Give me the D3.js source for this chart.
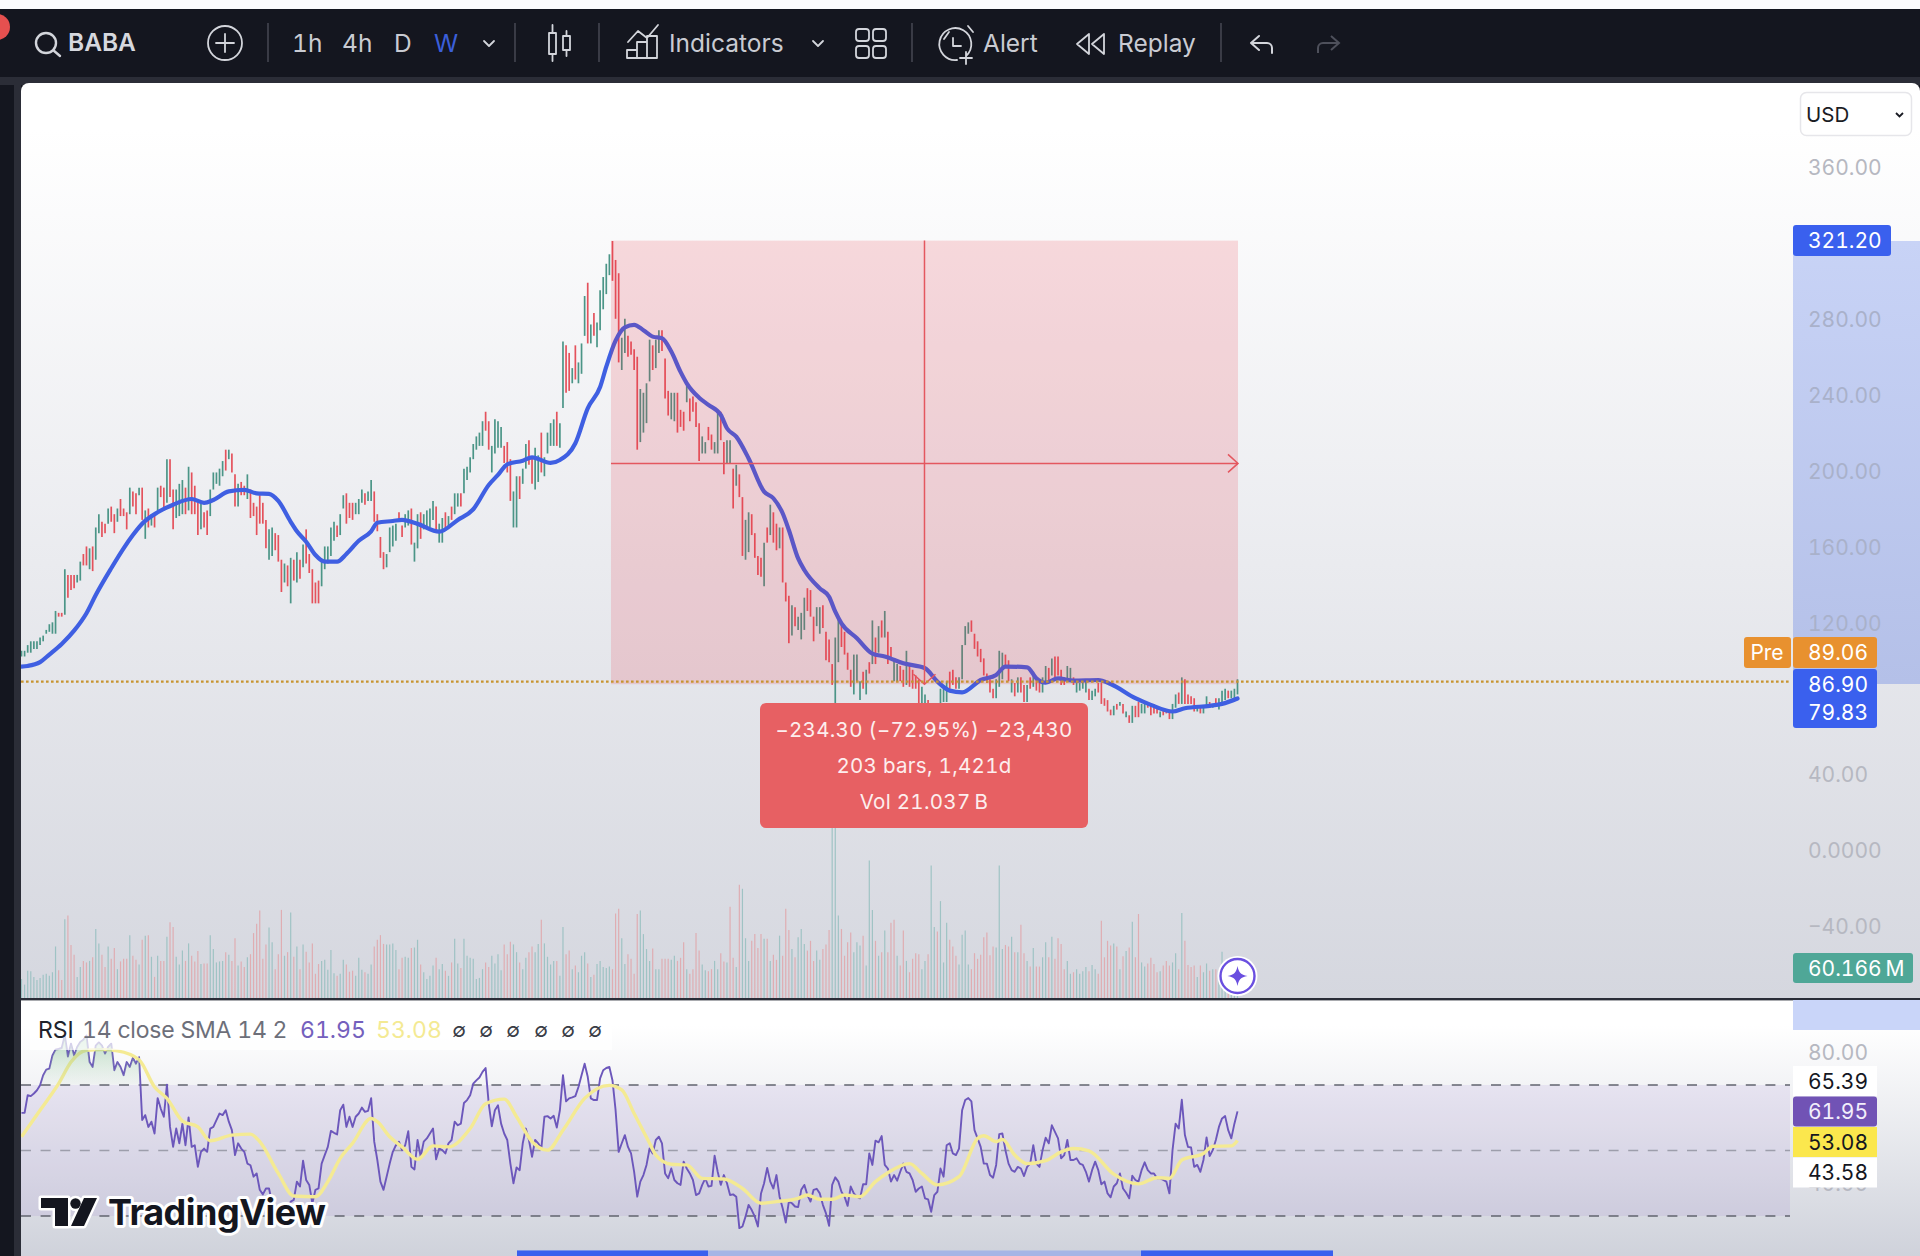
<!DOCTYPE html>
<html>
<head>
<meta charset="utf-8">
<title>BABA</title>
<script src="https://cdn.jsdelivr.net/npm/d3@7"></script>
<style>
  html, body { margin: 0; padding: 0; background: #fff; }
  svg { display: block; }
  text { font-family: Inter, "Noto Sans", sans-serif; font-variant-numeric: tabular-nums; }
</style>
</head>
<body>
<svg id="drawing_region"></svg>
<script>
// weekly bars
const barHigh = [
  105,105,108,110,110,110,112,113,116,119, 120,126,125,125,148,145,145,145,145,152,
  156,160,159,160,170,177,173,172,180,181, 177,180,185,180,178,191,189,188,191,191,
  179,180,177,177,191,192,191,206,206,190, 190,193,195,191,202,199,192,183,183,178,
  179,190,199,199,201,205,211,211,209,198, 193,194,192,198,190,183,181,187,183,174,
  169,170,167,166,153,151,150,154,153,157, 153,161,169,156,148,141,142,153,160,160,
  170,173,171,177,187,188,183,183,183,185, 190,188,189,195,189,177,165,157,156,170,
  171,172,178,171,177,179,180,162,177,178, 177,179,180,184,181,172,175,178,176,181,
  188,188,188,201,202,207,214,218,220,226, 231,226,213,227,226,223,213,215,206,189,
  197,197,201,214,216,207,212,208,220,207, 220,225,227,231,225,268,266,262,254,266,
  257,267,292,299,277,283,278,295,302,309, 314,321,311,304,270,280,271,268,264,260,
  243,241,246,269,266,269,274,274,259,242, 241,241,241,232,231,245,238,239,236,225,
  218,215,223,219,215,230,231,215,216,216, 201,203,198,186,174,178,177,167,155,154,
  162,170,182,178,172,170,170,141,134,129, 128,123,125,133,138,137,123,128,128,129,
  115,111,98,112,122,119,115,104,95,103, 103,89,94,95,99,121,112,118,121,126,
  115,107,100,98,97,95,105,97,95,92, 90,86,82,79,76,75,76,85,85,89,
  94,95,91,91,108,118,120,121,114,110, 106,101,93,90,85,90,105,104,103,100,
  90,88,91,91,87,87,91,94,91,90, 91,97,96,101,102,102,95,91,97,96,
  91,89,88,89,89,85,84,85,88,88, 80,79,74,76,77,78,77,73,71,76,
  76,78,77,77,77,76,77,75,73,74, 74,74,77,82,83,91,90,82,81,80,
  76,75,76,81,78,77,80,80,84,85, 84,84,85,90
];
const barLow = [
  102,102,104,104,106,106,108,110,114,115, 114,114,123,123,124,133,137,138,141,142,
  150,150,148,147,153,167,165,167,172,173, 167,173,176,176,169,177,181,177,187,174,
  164,170,171,170,179,186,179,183,186,169, 175,176,177,177,179,177,177,166,169,170,
  166,176,190,193,192,197,200,206,199,181, 181,187,187,185,175,176,166,172,172,159,
  153,155,158,152,136,141,139,130,142,141, 143,149,151,146,130,130,130,139,148,151,
  155,163,165,166,180,172,175,174,177,177, 183,182,184,184,173,168,154,148,149,157,
  160,163,173,165,170,171,161,152,159,164, 169,170,170,174,168,162,162,169,170,174,
  177,181,181,188,195,199,206,211,213,213, 221,211,199,209,212,212,204,199,184,170,
  170,185,193,201,203,193,190,194,199,197, 209,213,213,213,212,233,241,242,246,248,
  246,251,271,267,267,271,265,274,285,293, 303,300,280,257,253,262,260,261,253,211,
  215,220,225,247,253,254,262,263,238,229, 227,226,220,223,221,236,226,231,223,205,
  209,209,216,211,209,209,216,198,204,204, 180,192,186,155,153,157,166,154,145,144,
  139,162,166,162,158,159,141,131,109,113, 118,116,111,116,126,123,110,118,114,117,
  100,99,87,70,99,107,103,95,86,82, 89,79,85,82,93,98,98,104,112,112,
  98,101,89,89,89,86,87,86,85,85, 77,77,77,76,72,70,72,76,78,78,
  85,87,85,85,90,108,114,115,106,102, 99,92,88,83,80,80,86,90,96,89,
  83,81,83,83,78,78,85,86,84,83, 83,89,88,92,91,92,87,87,90,89,
  87,83,84,85,83,79,79,81,83,77, 76,73,71,71,74,76,72,70,67,67,
  70,70,72,72,75,71,72,72,70,71, 72,69,69,75,77,77,77,77,77,73,
  73,72,72,75,75,75,76,74,78,79, 80,80,80,82
];
// 1 = up week, 0 = down week
const barUp = [
  1,1,1,1,1,1,1,1,1,1, 1,1,0,0,1,0,0,0,1,1, 0,0,1,0,1,1,0,0,1,0, 0,1,0,0,0,1,0,0,1,0,
  1,0,1,0,1,0,0,1,0,0, 1,1,1,0,1,0,0,0,1,0, 0,1,1,1,1,1,0,1,0,0, 1,0,0,1,0,0,0,0,0,0,
  1,1,0,0,0,1,0,1,0,1, 0,1,0,0,0,0,0,1,1,1, 1,1,0,1,1,0,0,0,1,1, 1,0,1,1,0,0,0,0,1,1,
  1,1,0,0,1,1,0,1,1,0, 1,1,1,1,0,1,1,0,1,0, 1,1,0,1,1,1,1,1,1,1, 0,0,1,1,1,1,0,0,0,1,
  1,0,1,1,0,0,1,1,0,1, 1,1,1,0,1,1,0,0,1,0, 1,1,1,0,1,0,1,1,1,1, 1,0,0,0,1,1,0,0,0,0,
  1,1,1,1,0,1,1,0,0,0, 1,1,0,0,0,1,0,0,0,0, 1,1,0,0,1,1,0,0,1,1, 0,1,0,0,1,1,0,0,0,0,
  1,0,1,0,0,1,0,0,0,1, 0,1,1,1,0,0,0,1,1,0, 0,0,0,1,1,0,0,0,0,1, 1,1,0,1,0,1,0,1,0,1,
  0,0,1,1,0,0,1,0,0,0, 0,1,1,0,0,1,0,1,1,1, 0,0,0,1,1,1,1,0,0,0, 0,0,0,0,0,1,1,1,0,0,
  1,0,1,0,0,1,0,1,0,0, 1,1,0,1,0,0,0,0,1,1, 0,1,1,1,1,0,1,1,0,0, 0,0,0,1,0,1,0,1,0,1,
  0,0,1,1,0,0,0,0,1,0, 0,0,1,1,0,1,0,0,0,0, 1,0,1,1,0,1,0,1,1,1, 0,1,1,1
];
// volume in millions
const volume = [
  37,26,53,52,41,35,39,45,47,43, 50,100,54,35,153,160,103,84,41,60,
  72,69,72,79,134,106,84,60,100,76, 97,56,71,76,76,122,82,74,65,113,
  121,122,80,41,82,72,72,119,147,138, 80,65,92,72,106,82,71,91,66,67,
  67,122,95,69,71,72,89,84,72,116, 63,71,60,79,85,126,144,170,76,104,
  137,108,56,85,171,82,89,166,80,100, 56,104,90,69,106,47,66,72,74,55,
  93,48,43,47,74,65,51,53,43,78, 55,50,47,65,100,113,122,105,104,104,
  106,93,56,78,80,78,97,98,113,65, 50,37,43,63,78,56,66,53,43,69,
  115,67,58,115,82,78,76,37,39,56, 69,60,82,67,85,54,104,85,109,104,
  89,69,56,78,89,100,89,105,152,106, 80,65,72,72,43,138,85,92,56,63,
  50,82,89,67,41,45,66,72,60,58, 61,56,164,173,116,66,85,76,47,163,
  170,124,95,72,96,56,56,76,76,76, 74,82,72,78,108,56,47,56,126,92,
  65,54,52,56,72,56,87,71,69,177, 78,60,220,212,116,72,111,124,97,124,
  115,115,72,84,74,121,82,173,132,95, 79,118,134,105,92,111,72,92,74,95,
  104,132,330,345,160,134,82,108,127,89, 108,102,121,63,267,171,111,82,89,131,
  89,146,152,82,63,131,72,50,76,87, 85,56,72,85,257,138,129,188,69,146,
  113,100,82,65,123,131,65,56,87,76, 84,118,127,83,100,98,257,95,103,100,
  119,89,89,142,87,72,61,97,61,61, 79,108,79,119,76,116,105,56,72,47,
  50,56,47,52,60,52,64,56,47,150, 79,111,102,106,100,56,81,91,98,148,
  79,163,69,61,67,78,66,50,52,63, 72,63,69,87,56,165,111,64,60,63,
  41,63,50,67,53,56,56,47,90,50, 50,45,55,60.166
];
// weeks whose volume bar has the other colour than the price bar
const volFlip = [229,233,262,274,282,294];

// moving average, read at these bars
const maBar = [0,2,6,9,13,17,21,24,29,33,36,39,44,49,55,59,62,67,72,76,80,83,87,89,92,95,98,102,105,109,113,115,120,123,128,135,141,146,151,154,157,162,165,171,174,179,183,187,189,192,195,198,201,204,207,210,213,215,219,222,226,228,231,235,240,243,246,248,251,253,258,261,263,265,270,275,279,285,292,296,300,304,310,315,318,325,328,331,335,340,348,352,360,365,372,376,384,388,393];
const maVal = [96.7,97,99,103,108.6,115.6,124.8,134.4,148.5,159,166,172,178,182,185,183,184.5,189,189.8,188,187.7,184,173,168,162.5,155.5,152,152,156,163,168,172.5,173.4,174,171.9,167.8,174,179.6,192.4,197.7,203.3,205.2,207,204,205.6,214.4,232.8,244,254.8,268.5,275.5,276.8,274,270.6,269.7,262.7,252,246,238.4,234.6,229.3,222.3,217.9,206.4,188.9,185.4,177.5,168.7,153.7,147.6,137.9,133.5,125.6,119.5,111.6,103.5,102,98.4,95.8,88.8,84,83.1,89.6,92.3,96.7,96.3,90.5,88.2,90.5,89.3,89.6,87.5,80,76.5,73,74.7,76,77,79.83];

// RSI 14
const rsi = [
  61.5,61.5,66.9,66.6,67.4,68.4,69.9,73,74.7,75, 79,80.8,81,81.3,85.1,78.7,82.6,79,81.6,83.1,
  83.8,85.1,77,75.5,82,83,82,79.6,81.6,82.6, 74.5,77,75.5,73,77,75.5,78.3,76.5,78.5,59.3,
  60.8,57.2,58.8,55.2,66,62.8,60.3,70.1,57.2,51.1, 56.7,52.2,58.2,51.6,60.1,51.1,51.6,45,49.6,50.6,
  49.6,56.7,57.2,59.3,61.3,60.8,62.3,58.8,56.2,48.6, 52.2,50.6,49.6,46,45.5,42,43,38,36.6,38.4,
  38.4,33.9,31.8,30.5,29.8,30.8,31.8,34.4,34.9,40.5, 39,46.9,41,39.5,33.9,38,38.4,46,48.6,51.1,
  56,55.4,54.9,62.3,64,57.2,60.3,57.2,60.3,61.3, 63.1,61.8,62.1,66,52.7,47.1,40.5,38,42,46,
  49.6,51.6,52.7,50.1,51.6,55.9,45,44.2,53.2,48.1, 52.7,53.7,55.2,56.7,47.3,50.6,50.1,49.1,52.2,53.2,
  58.8,57.7,58.2,64.5,65.4,66.9,70.4,71.4,72.3,74, 75.2,64.3,57.4,62.3,63.8,58.2,55.2,53.2,46,40,
  44.8,44,52.2,56.7,53.2,48.1,53.2,52.2,50.6,60.3, 60.5,59.8,60.6,57,62.3,73,65,65.9,66.2,66.6,
  69.4,73,76.5,72.5,65.9,65.4,65.4,72,74.5,75.2, 75.5,71.4,62.3,49.6,52.2,54.7,51.1,49.1,43.5,35.9,
  40.5,42.5,45.6,50.6,49.1,53.2,54.2,52.2,43,41.5, 44.5,41,40,39.5,46.6,44.5,43,41,36.4,36.9,
  39.5,41.5,39,39.2,48.4,43.5,39.5,42.5,40,36.4, 36.6,35.9,26.3,26.8,29.8,33.4,31.8,29.8,26.8,36.9,
  40,44.7,40.5,38.4,42.5,35.9,32.4,28,34.4,33.9, 32.9,32.7,38,39.5,36.4,34.4,38,38.3,36.9,33.4,
  30.8,27,39.5,41.8,40.5,37.4,35.9,33.1,39,36.9, 35.9,35.4,39.7,39.7,49.1,45.6,53,52.5,54.4,45.6,
  44.5,40.5,42.5,40.8,43.5,46,43.5,43,41,37.4, 38.4,39,35.4,35.1,31.3,36.4,37.4,44.5,42,51.6,
  52.2,49.1,48.6,50.6,62.3,65.4,66,65,56.2,53.7, 51.1,46,46,42.5,41.7,45.6,55,55.2,50.1,46,
  44,43.5,45,44.5,42.2,45,46,51.6,46,45, 50.1,53.9,52.2,57.7,55.7,53.7,47.6,48.6,53.2,47.1,
  47.1,47.6,46,45.6,43.5,40.5,44,46.6,44,39.7, 40.5,36.9,35.7,39,40,43,38.4,37.1,35.4,42.3,
  41,40.5,44,46.4,44,43,43,41.5,41.5,41, 40.5,36.9,50.1,58.2,56.7,65.5,54.7,51.1,50.9,45,
  45.6,43.5,47.1,54,48.3,50.1,53.2,57.2,59.8,60.5, 56.2,53.7,58.2,61.95
];
// SMA of the RSI, read at these bars
const smaBar = [0,6,12,16,21,26,31,38,43,47,52,57,61,68,74,77,83,88,95,99,103,107,113,115,119,123,128,133,138,145,150,156,160,165,170,175,182,190,194,198,203,205,210,215,220,227,233,239,244,251,254,258,262,266,271,276,280,287,291,296,303,309,311,315,317,321,325,331,336,340,345,353,361,367,371,375,382,385,391,393];
const smaVal = [54.2,62.3,70.4,77,80.6,80.8,80.4,77.7,69.4,65.9,59,57.2,53,54.7,55,52.7,43,36.1,35.9,40.5,47.6,52.2,59.8,58.8,54.2,51.1,47.3,51.4,51.1,56.7,64.3,65.7,60.3,52.7,50.1,56.2,65.9,69.9,68.5,61.3,52.2,48.6,45.8,45.6,41.5,41.3,38.4,33.9,34.4,35.4,36.4,35.1,35.1,36.4,35.9,40.5,43.2,46,43,39.5,42,53.7,54.5,52.7,53.4,48.6,46,46.9,49.6,50.6,49.9,42.8,39.8,41.7,41.5,47.1,49.1,51.3,51.4,53.08];

// axis labels
const priceTicks = [360,280,240,200,160,120,40,0,-40];
const rsiTicks = [80,40];
const rsiLevels = [70,50,30];
const toolbarWords = [
  {t:'1h',x:292},{t:'4h',x:342},{t:'D',x:394},{t:'W',x:434,c:'#3b5fd9'},
  {t:'Indicators',x:669},{t:'Alert',x:983},{t:'Replay',x:1118}
];
const toolbarSeps = [268,515,599,912,1221];
const measureLines = ['\u2212234.30 (\u221272.95%) \u221223,430','203 bars, 1,421d','Vol 21.037\u2009B'];

const width = 1920, height = 1256;
const green = '#4b9587', red = '#e4525c';

const svg = d3.select('#drawing_region').attr('width', width).attr('height', height);
const defs = svg.append('defs');

function vGrad(id, stops, y1, y2) {
  const g = defs.append('linearGradient').attr('id', id)
    .attr('gradientUnits', 'userSpaceOnUse')
    .attr('x1', 0).attr('x2', 0).attr('y1', y1).attr('y2', y2);
  stops.forEach(s => g.append('stop').attr('offset', s[0]).attr('stop-color', s[1]).attr('stop-opacity', s[2] === undefined ? 1 : s[2]));
}
vGrad('bgMain', [[0,'#ffffff'],[0.05,'#ffffff'],[1,'#d5d7df']], 83, 998);
vGrad('bgRsi', [[0,'#ffffff'],[0.1,'#ffffff'],[1,'#cfd2db']], 1000, 1256);
vGrad('obFill', [[0,'#7fbf8f',0.5],[1,'#a5d0a8',0.05]], 1040, 1085);
vGrad('tokenBand', [[0,'#c8d3f6'],[1,'#b4c0e8']], 241, 684);

clip('mainClip', 21, 83, 1769, 915);
clip('rsiClip', 21, 1000, 1769, 256);
clip('obClip', 21, 1000, 1769, 84.5);
function clip(id, x, y, w, h) {
  defs.append('clipPath').attr('id', id).append('rect').attr('x', x).attr('y', y).attr('width', w).attr('height', h);
}

// scales
const x = d3.scaleLinear().domain([0, barHigh.length - 1]).range([21.5, 1237.5]);
const y = d3.scaleLinear().domain([0, 360]).range([850, 167]);
const yVol = d3.scaleLinear().domain([0, 60.166]).range([998, 967]);
const yRsi = d3.scaleLinear().domain([30, 70]).range([1216, 1085]);

// page frame
svg.append('rect').attr('width', width).attr('height', height).attr('fill', '#14161f');
svg.append('rect').attr('width', width).attr('height', 9).attr('fill', '#fbfbfd');
svg.append('rect').attr('y', 77).attr('width', width).attr('height', 8).attr('fill', '#2b2d37');
svg.append('rect').attr('x', 14).attr('y', 84).attr('width', 7).attr('height', height).attr('fill', '#2b2d37');
svg.append('path').attr('fill', 'url(#bgMain)')
  .attr('d', 'M21 998V91a8 8 0 0 1 8-8H1912a8 8 0 0 1 8 8V998Z');
svg.append('rect').attr('x', 21).attr('y', 1000).attr('width', 1899).attr('height', 256).attr('fill', 'url(#bgRsi)');
svg.append('rect').attr('x', 21).attr('y', 998).attr('width', 1899).attr('height', 2.4).attr('fill', '#2a2d38');

// ---- main pane
const mainG = svg.append('g').attr('clip-path', 'url(#mainClip)');

mainG.selectAll('.vol').data(volume).enter().append('line')
  .attr('x1', (d, i) => x(i)).attr('x2', (d, i) => x(i))
  .attr('y1', yVol(0)).attr('y2', d => yVol(d))
  .attr('stroke', (d, i) => {
    const up = volFlip.includes(i) ? !barUp[i] : barUp[i];
    return up ? '#9fc3c4' : '#dfadb2';
  })
  .attr('stroke-width', 1.2);

mainG.selectAll('.bar').data(barHigh).enter().append('line')
  .attr('x1', (d, i) => x(i)).attr('x2', (d, i) => x(i))
  .attr('y1', d => y(d)).attr('y2', (d, i) => y(barLow[i]))
  .attr('stroke', (d, i) => barUp[i] ? green : red)
  .attr('stroke-width', 1.7);

const maLine = d3.line().x(d => x(d[0])).y(d => y(d[1])).curve(d3.curveMonotoneX);
mainG.append('path').datum(maBar.map((b, i) => [b, maVal[i]]))
  .attr('d', maLine).attr('fill', 'none').attr('stroke', '#3f5fe2')
  .attr('stroke-width', 4.2).attr('stroke-linejoin', 'round').attr('stroke-linecap', 'round');

// measure tool
const rLeft = x(191) - 1.5, rRight = x(393) + 0.5, rTop = y(321.2), rBottom = y(87.4);
const rMidX = (rLeft + rRight) / 2, rMidY = (rTop + rBottom) / 2 + 1;
mainG.append('rect').attr('x', rLeft).attr('y', rTop).attr('width', rRight - rLeft).attr('height', rBottom - rTop)
  .attr('fill', '#e8303f').attr('fill-opacity', 0.17);
mainG.append('line').attr('x1', rLeft).attr('x2', rRight).attr('y1', rMidY).attr('y2', rMidY).attr('stroke', '#e4575f').attr('stroke-width', 1.5);
mainG.append('line').attr('x1', rMidX).attr('x2', rMidX).attr('y1', rTop).attr('y2', rBottom).attr('stroke', '#e4575f').attr('stroke-width', 1.5);
mainG.append('path').attr('fill', 'none').attr('stroke', '#e4575f').attr('stroke-width', 1.5)
  .attr('d', `M${rRight - 10} ${rMidY - 9}L${rRight} ${rMidY}L${rRight - 10} ${rMidY + 9}`);
mainG.append('path').attr('fill', 'none').attr('stroke', '#e4575f').attr('stroke-width', 1.5)
  .attr('d', `M${rMidX - 11} ${rBottom - 10}L${rMidX} ${rBottom}L${rMidX + 11} ${rBottom - 10}`);

// pre-market price line
mainG.append('line').attr('x1', 21).attr('x2', 1790).attr('y1', y(88.7)).attr('y2', y(88.7))
  .attr('stroke', '#c7942f').attr('stroke-width', 2.2).attr('stroke-dasharray', '2.6,2.4');

// measure tooltip
svg.append('rect').attr('x', 760).attr('y', 703).attr('width', 328).attr('height', 125).attr('rx', 6).attr('fill', '#e76063');
svg.selectAll('.measure').data(measureLines).enter().append('text')
  .attr('x', 924).attr('y', (d, i) => 730 + i * 36).attr('dy', '0.36em')
  .attr('text-anchor', 'middle').attr('fill', '#fdeeee').attr('font-size', 20.5).attr('letter-spacing', '0.3px')
  .text(d => d);

// price axis
svg.append('rect').attr('x', 1793).attr('y', 241).attr('width', 127).attr('height', 443).attr('fill', 'url(#tokenBand)');
const priceAxis = d3.axisRight(y).tickValues(priceTicks).tickSize(0).tickPadding(15)
  .tickFormat(d => d === 0 ? '0.0000' : d3.format('.2f')(d).replace('-', '\u2212'));
const priceG = svg.append('g').attr('transform', 'translate(1793,1)').call(priceAxis);
priceG.select('.domain').remove();
priceG.selectAll('text').attr('font-size', 21).attr('font-family', 'Inter').attr('fill', d => (d <= 280 && d >= 120) ? '#a9b1ca' : '#b6b8c1');

function priceTag(text, tx, ty, w, h, fill, color, rx) {
  svg.append('rect').attr('x', tx).attr('y', ty).attr('width', w).attr('height', h).attr('rx', rx === undefined ? 3 : rx).attr('fill', fill);
  svg.append('text').attr('x', tx + 15).attr('y', ty + h / 2).attr('dy', '0.36em').attr('font-size', 21).attr('fill', color).text(text);
}
priceTag('321.20', 1793, 225, 98, 31, '#3a60ee', '#fff');
priceTag('89.06', 1793, 637, 84, 31, '#e8912f', '#fff');
svg.append('rect').attr('x', 1744).attr('y', 637).attr('width', 47).attr('height', 31).attr('rx', 3).attr('fill', '#e8912f');
svg.append('text').attr('x', 1767).attr('y', 652.5).attr('dy', '0.36em').attr('text-anchor', 'middle').attr('font-size', 21).attr('fill', '#fff').text('Pre');
svg.append('rect').attr('x', 1793).attr('y', 669).attr('width', 84).attr('height', 59).attr('rx', 3).attr('fill', '#3a60ee');
svg.selectAll('.lastPrice').data(['86.90', '79.83']).enter().append('text')
  .attr('x', 1808).attr('y', (d, i) => 684.5 + i * 27.5).attr('dy', '0.36em').attr('font-size', 21).attr('fill', '#fff').text(d => d);
priceTag('60.166\u2009M', 1793, 953, 120, 30, '#4fa797', '#fff');

// assistant icon
svg.append('circle').attr('cx', 1237.5).attr('cy', 976).attr('r', 20).attr('fill', '#fff');
svg.append('circle').attr('cx', 1237.5).attr('cy', 976).attr('r', 17).attr('fill', '#fff').attr('stroke', '#6a4fe0').attr('stroke-width', 2.4);
svg.append('path').attr('transform', 'translate(1237.5,976)').attr('fill', '#6a4fe0')
  .attr('d', 'M0-10C1.5-3 3-1.5 10 0C3 1.5 1.5 3 0 10C-1.5 3 -3 1.5 -10 0C-3-1.5 -1.5-3 0-10Z');

// ---- RSI pane
svg.append('rect').attr('x', 21).attr('y', yRsi(70)).attr('width', 1769).attr('height', yRsi(30) - yRsi(70))
  .attr('fill', '#7e57c2').attr('fill-opacity', 0.1);

const rsiG = svg.append('g').attr('clip-path', 'url(#rsiClip)');
rsiG.selectAll('.level').data(rsiLevels).enter().append('line')
  .attr('x1', 21).attr('x2', 1790).attr('y1', d => yRsi(d)).attr('y2', d => yRsi(d))
  .attr('stroke', d => d === 50 ? '#9d9eab' : '#62646f').attr('stroke-width', 1.6).attr('stroke-dasharray', '10,9.6');

const obArea = d3.area().x((d, i) => x(i)).y0(yRsi(70)).y1(d => yRsi(d));
svg.append('g').attr('clip-path', 'url(#obClip)').append('path').datum(rsi.slice(0, 47))
  .attr('d', obArea).attr('fill', 'url(#obFill)');

rsiG.append('path').datum(rsi)
  .attr('d', d3.line().x((d, i) => x(i)).y(d => yRsi(d)))
  .attr('fill', 'none').attr('stroke', '#6c57bb').attr('stroke-width', 1.9).attr('stroke-linejoin', 'round');
rsiG.append('path').datum(smaBar.map((b, i) => [b, smaVal[i]]))
  .attr('d', d3.line().x(d => x(d[0])).y(d => yRsi(d[1])).curve(d3.curveMonotoneX))
  .attr('fill', 'none').attr('stroke', '#f4ea93').attr('stroke-width', 3.4).attr('stroke-linejoin', 'round');

// RSI legend
svg.append('rect').attr('x', 30).attr('y', 1012).attr('width', 582).attr('height', 38).attr('fill', '#fff').attr('fill-opacity', 0.7);
const legend = svg.append('text').attr('y', 1030).attr('dy', '0.36em').attr('font-size', 23);
legend.append('tspan').attr('x', 38).attr('fill', '#20222b').text('RSI');
legend.append('tspan').attr('x', 82).attr('fill', '#6d6f7a').attr('letter-spacing', '-0.2px').text('14 close SMA 14 2');
legend.append('tspan').attr('x', 300).attr('fill', '#7460bd').text('61.95');
legend.append('tspan').attr('x', 376).attr('fill', '#f4ea93').text('53.08');
[459, 486, 513, 541, 568, 595].forEach(px => {
  svg.append('text').attr('x', px).attr('y', 1030).attr('dy', '0.36em').attr('text-anchor', 'middle')
    .attr('font-size', 20).attr('fill', '#3a3c46').text('\u2205');
});

// RSI axis
const rsiAxis = d3.axisRight(yRsi).tickValues(rsiTicks).tickSize(0).tickPadding(15).tickFormat(d3.format('.2f'));
const rsiAxisG = svg.append('g').attr('transform', 'translate(1793,1)').call(rsiAxis);
rsiAxisG.select('.domain').remove();
rsiAxisG.selectAll('text').attr('font-size', 21).attr('font-family', 'Inter').attr('fill', '#b6b8c1');
svg.append('rect').attr('x', 1793).attr('y', 1000).attr('width', 127).attr('height', 30).attr('fill', '#c9d5f9');
priceTag('65.39', 1793, 1066, 84, 30, '#ffffff', '#15171f', 0);
priceTag('61.95', 1793, 1096.5, 84, 30, '#7153b5', '#f2eefb');
priceTag('53.08', 1793, 1127, 84, 30, '#fbe74d', '#15171f', 0);
priceTag('43.58', 1793, 1157.5, 84, 30, '#ffffff', '#15171f', 0);

// TradingView logo
const logoG = svg.append('g');
const logoPath = 'M41 1198H68V1226H55V1208H41ZM84 1198H97L84 1226H71Z';
logoG.append('path').attr('d', logoPath).attr('fill', '#fff').attr('stroke', '#fff').attr('stroke-width', 5).attr('stroke-linejoin', 'round');
logoG.append('circle').attr('cx', 75.5).attr('cy', 1203.5).attr('r', 5.2).attr('fill', '#fff').attr('stroke', '#fff').attr('stroke-width', 5);
logoG.append('path').attr('d', logoPath).attr('fill', '#14161f');
logoG.append('circle').attr('cx', 75.5).attr('cy', 1203.5).attr('r', 5.2).attr('fill', '#14161f');
logoG.append('text').attr('x', 108).attr('y', 1225).attr('font-size', 36).attr('font-weight', 700).attr('letter-spacing', '-0.5px')
  .attr('fill', '#14161f').attr('stroke', '#fff').attr('stroke-width', 6).attr('paint-order', 'stroke').attr('stroke-linejoin', 'round').text('TradingView');

// time range strip
svg.append('rect').attr('x', 517).attr('y', 1250.5).attr('width', 816).attr('height', 6).attr('fill', '#a6b5e6');
svg.append('rect').attr('x', 517).attr('y', 1250.5).attr('width', 191).attr('height', 6).attr('fill', '#3a60ee');
svg.append('rect').attr('x', 1141).attr('y', 1250.5).attr('width', 192).attr('height', 6).attr('fill', '#3a60ee');

// ---- toolbar
svg.append('circle').attr('cx', -3).attr('cy', 27).attr('r', 13).attr('fill', '#e5504f');
toolbarSeps.forEach(sx => {
  svg.append('line').attr('x1', sx).attr('x2', sx).attr('y1', 23).attr('y2', 62).attr('stroke', '#4a4c57').attr('stroke-width', 1.4);
});
svg.append('text').attr('x', 68).attr('y', 42.5).attr('dy', '0.36em').attr('font-size', 24.5).attr('font-weight', 600).attr('fill', '#d6d8de').text('BABA');
svg.selectAll('.tool').data(toolbarWords).enter().append('text')
  .attr('x', d => d.x).attr('y', 43).attr('dy', '0.36em').attr('font-size', 24.5)
  .attr('fill', d => d.c || '#c9cbd2').text(d => d.t);

const icon = (d, w) => svg.append('path').attr('d', d).attr('fill', 'none').attr('stroke', '#d3d5db').attr('stroke-width', w || 1.8).attr('stroke-linecap', 'round').attr('stroke-linejoin', 'round');
icon('M36 43a10 10 0 1 0 20 0a10 10 0 1 0 -20 0M53 50L60 56', 2.4);
icon('M208 43a17 17 0 1 0 34 0a17 17 0 1 0 -34 0M225 34V52M216 43H234', 1.8);
icon('M484 41l5 5l5-5', 1.8);
icon('M813 41l5 5l5-5', 1.8);
icon('M549 33h7v21h-7zM552.5 25V33M552.5 54V61M563 36h7v14h-7zM566.5 31V36M566.5 50V56');
icon('M627 58h10v-8h-10zM637 58h10v-16h-10zM647 58h10v-22h-10zM628 42l10-11l9 7l11-13');
icon('M859 29h7a3 3 0 0 1 3 3v6a3 3 0 0 1 -3 3h-7a3 3 0 0 1 -3 -3v-6a3 3 0 0 1 3 -3zM876 29h7a3 3 0 0 1 3 3v6a3 3 0 0 1 -3 3h-7a3 3 0 0 1 -3 -3v-6a3 3 0 0 1 3 -3zM859 46h7a3 3 0 0 1 3 3v6a3 3 0 0 1 -3 3h-7a3 3 0 0 1 -3 -3v-6a3 3 0 0 1 3 -3zM876 46h7a3 3 0 0 1 3 3v6a3 3 0 0 1 -3 3h-7a3 3 0 0 1 -3 -3v-6a3 3 0 0 1 3 -3z');
icon('M957 60a16 16 0 1 1 9 -4M949 32l-5 7M968 26l5 6M953 38V46H961M966 52V64M960 58H972');
icon('M1089 34L1077 44L1089 54ZM1104 34L1092 44L1104 54Z');
icon('M1259 36L1251 43L1259 50M1251 43H1267a5 5 0 0 1 5 5V53', 2);
svg.append('path').attr('d', 'M1331 36L1339 43L1331 50M1339 43H1323a5 5 0 0 0 -5 5V53').attr('fill', 'none').attr('stroke', '#4e505b').attr('stroke-width', 2);

// currency select
svg.append('rect').attr('x', 1800.5).attr('y', 92.5).attr('width', 111).attr('height', 43).attr('rx', 6).attr('fill', '#fff').attr('stroke', '#e6e6ea').attr('stroke-width', 1.5);
svg.append('text').attr('x', 1806).attr('y', 115).attr('dy', '0.36em').attr('font-size', 20.5).attr('fill', '#1a1c24').text('USD');
svg.append('path').attr('d', 'M1896 113l3.5 3.5l3.5-3.5').attr('fill', 'none').attr('stroke', '#1a1c24').attr('stroke-width', 1.8);
</script>
</body>
</html>
